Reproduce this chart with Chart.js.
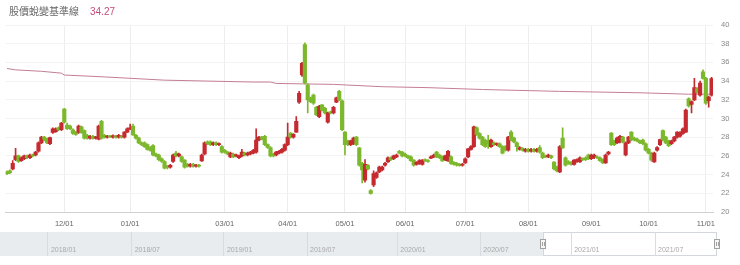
<!DOCTYPE html>
<html>
<head>
<meta charset="utf-8">
<script src="https://cdn.jsdelivr.net/npm/chart.js@4.4.1/dist/chart.umd.min.js"></script>
<style>
  html, body { margin: 0; padding: 0; background: #fff; }
  #wrap { position: relative; width: 740px; height: 265px; overflow: hidden; font-family: "Noto Sans CJK TC", "Noto Sans", sans-serif; }
  #title { position: absolute; left: 9px; top: 3px; font-size: 10px; color: #666; z-index: 2; white-space: nowrap; }
  #title span { color: #c24d7c; margin-left: 11px; font-family: "Liberation Sans", Arial, sans-serif; }
  #main { position: absolute; left: 0; top: 0; }
  #nav { position: absolute; left: 0; top: 231px; }
</style>
</head>
<body>
<div id="wrap">
  <div id="title">股價蛻變基準線<span id="last">34.27</span></div>
  <canvas id="main" width="740" height="231"></canvas>
  <canvas id="nav" width="740" height="26"></canvas>
</div>
<script>
// daily candles, 2020/11/03 .. 2021/11/03 (TWSE trading days)
const startDay = '2020-11-03'
const endDay = '2021-11-03'
const holidays = ['2021-01-01','2021-02-08','2021-02-09','2021-02-10','2021-02-11','2021-02-12',
  '2021-02-15','2021-02-16','2021-03-01','2021-04-02','2021-04-05','2021-06-14',
  '2021-09-20','2021-09-21','2021-10-11']
const xTicks = ['12/01','01/01','03/01','04/01','05/01','06/01','07/01','08/01','09/01','10/01','11/01']

const open = [
  24.3,24.4,24.6,25.6,26.0,25.5,25.7,26.0,25.8,26.1, 26.1,26.5,27.4,28.0,27.8,27.3,28.5,28.6,29.0,28.8,
  31.0,29.3,29.2,28.8,28.55,28.5,29.1,28.7,28.2,27.9, 28.1,27.9,27.8,29.7,28.2,28.0,28.15,28.0,28.1,28.0,
  28.1,28.0,28.55,28.9,29.2,28.2,27.9,27.4,27.4,27.2, 26.9,27.1,26.2,26.1,25.7,25.4,24.9,24.8,25.4,26.3,
  26.0,25.9,25.55,25.1,24.9,25.1,24.9,25.0,25.45,26.2, 27.5,27.5,27.2,27.4,27.2,27.0,26.6,26.4,25.9,26.2,
  26.0,25.8,26.0,26.3,26.1,26.2,26.3,26.4,27.7,28.0, 28.1,27.2,26.9,26.2,26.1,26.3,26.4,26.6,27.2,28.45,
  28.0,28.55,31.75,34.65,37.9,33.6,32.2,32.5,31.2,30.2, 31.45,31.1,29.6,30.7,30.6,31.75,32.9,31.9,28.55,27.6,
  27.2,27.3,28.0,26.85,25.2,23.4,25.0,22.3,22.9,23.7, 24.3,24.5,25.0,25.35,25.8,25.7,25.9,26.5,26.4,26.2,
  26.0,25.9,25.55,25.1,25.2,25.1,25.6,25.5,25.75,25.9, 26.4,26.1,25.9,25.6,25.45,25.9,25.3,25.2,25.1,25.0,
  25.25,25.9,26.7,27.0,29.0,28.4,28.0,27.7,27.6,27.0, 27.4,27.2,27.3,27.0,27.0,26.6,28.55,27.9,27.4,26.7,
  26.8,26.5,26.7,26.5,26.7,26.5,26.9,26.3,26.0,25.9, 26.0,25.35,24.8,24.3,27.9,25.8,25.4,25.3,25.1,25.4,
  25.35,25.7,25.8,26.1,25.7,25.8,25.9,25.8,25.6,25.25, 26.2,28.45,27.6,27.4,27.5,28.0,26.1,27.4,28.55,27.9,
  27.8,27.6,27.7,27.3,26.7,26.3,25.35,26.6,27.2,28.7, 28.0,27.6,27.3,27.6,28.0,28.1,28.4,28.55,32.1,31.5,
  32.0,33.2,32.5,35.0,34.3,31.9,32.5
]
const close = [
  24.1,24.2,25.2,26.0,25.4,25.8,26.0,25.8,26.1,26.0, 26.4,27.4,28.0,27.8,27.4,27.95,28.9,28.9,28.8,29.5,
  29.6,28.9,28.9,28.4,28.3,29.2,28.5,27.9,27.9,28.1, 27.9,28.0,29.2,27.9,28.0,28.1,28.05,28.15,28.0,28.2,
  28.0,28.55,28.9,29.0,28.25,27.9,27.4,27.2,27.0,26.7, 26.6,26.1,26.0,25.6,25.4,24.7,24.8,25.0,26.1,26.0,
  26.2,25.4,24.8,24.9,25.1,24.9,25.0,24.9,26.1,27.4, 27.3,27.2,27.4,27.2,27.3,26.4,26.4,26.2,26.3,25.9,
  26.1,26.0,26.4,26.1,26.3,26.4,26.6,27.7,28.0,27.8, 27.2,26.9,26.0,26.0,26.4,26.5,26.7,27.2,28.0,28.0,
  28.3,29.7,32.7,35.9,33.8,32.0,31.8,31.65,30.4,31.3, 30.9,30.6,30.6,30.6,31.2,32.2,32.0,28.8,27.2,27.2,
  27.6,27.9,27.2,25.0,24.5,25.1,24.6,22.0,24.1,24.2, 24.8,24.8,25.2,25.8,25.6,26.0,26.1,26.3,26.0,26.0,
  25.8,25.5,25.0,25.3,25.5,25.55,25.45,25.4,25.9,26.1, 25.9,25.8,25.45,26.0,26.5,25.2,25.1,25.0,24.95,25.1,
  25.7,26.75,27.0,29.1,28.3,27.9,27.2,27.0,27.3,27.7, 27.2,27.3,27.0,26.3,26.6,28.0,27.7,27.5,27.0,26.9,
  26.6,26.7,26.5,26.7,26.5,26.7,26.4,25.8,25.9,26.1, 25.8,24.6,24.4,27.0,26.85,25.0,25.2,25.1,25.55,25.6,
  25.8,25.6,25.6,25.7,26.1,26.1,25.8,25.5,25.25,26.1, 26.4,27.2,27.2,27.9,28.1,27.5,27.4,28.0,27.7,27.7,
  27.6,27.4,27.3,26.6,26.3,25.55,26.3,26.9,27.75,27.7, 27.4,27.1,27.6,28.0,28.55,28.5,28.9,30.9,31.35,31.8,
  33.3,32.8,33.8,34.3,31.65,32.3,34.27
]
const high = [
  24.4,24.5,25.5,26.8,26.1,25.9,26.1,26.1,26.2,26.2, 26.5,27.5,28.1,28.1,27.9,28.0,29.0,29.0,29.1,29.6,
  31.1,29.5,29.3,28.9,28.6,29.3,29.2,28.8,28.3,28.2, 28.2,28.1,29.3,29.8,28.3,28.2,28.2,28.25,28.2,28.3,
  28.2,28.6,29.0,29.4,29.4,28.3,28.0,27.5,27.5,27.3, 27.0,27.2,26.3,26.2,25.8,25.5,25.0,25.1,26.2,26.5,
  26.3,26.0,25.6,25.2,25.2,25.2,25.1,25.1,26.2,27.5, 27.6,27.6,27.5,27.5,27.4,27.1,26.7,26.5,26.4,26.3,
  26.2,26.1,26.7,26.4,26.4,26.5,26.7,28.9,28.1,28.1, 28.2,27.3,27.0,26.3,26.5,26.6,26.8,27.3,29.5,28.5,
  28.4,30.2,32.9,36.0,38.1,33.7,32.3,32.6,31.3,31.4, 31.5,31.2,30.7,30.8,31.3,32.3,33.0,32.0,28.6,27.7,
  27.7,28.0,28.1,26.9,25.3,25.6,25.1,22.4,24.4,24.3, 24.9,24.9,25.3,25.9,25.9,26.1,26.2,26.6,26.5,26.3,
  26.1,26.0,25.6,25.4,25.6,25.6,25.7,25.6,26.0,26.2, 26.5,26.2,26.0,26.1,26.6,26.0,25.4,25.3,25.2,25.2,
  25.8,26.8,27.1,29.2,29.1,28.5,28.1,27.8,28.2,27.8, 27.5,27.4,27.4,27.1,27.1,28.1,28.7,28.0,27.5,27.0,
  26.9,26.8,26.8,26.8,26.8,26.8,27.1,26.4,26.1,26.2, 26.1,25.4,24.9,27.1,29.0,25.9,25.5,25.4,25.6,25.7,
  25.9,25.8,25.9,26.2,26.2,26.2,26.0,25.9,25.7,26.2, 26.5,28.5,27.7,28.0,28.2,28.1,27.5,28.1,28.6,28.0,
  27.9,27.7,27.8,27.4,26.8,26.4,26.4,27.0,27.8,28.8, 28.1,27.7,27.7,28.1,28.6,28.6,29.0,31.0,32.2,31.9,
  34.3,33.3,34.0,35.2,34.4,32.4,34.4
]
const low = [
  24.0,24.1,24.5,25.5,25.3,25.4,25.6,25.7,25.7,25.9, 26.0,26.4,27.3,27.6,27.3,27.2,28.4,28.5,28.7,28.7,
  29.5,28.8,28.8,28.3,28.2,28.4,28.4,27.8,27.8,27.8, 27.8,27.8,27.7,27.8,27.9,27.9,27.95,27.9,27.9,27.9,
  27.9,27.9,28.5,28.8,28.2,27.8,27.3,27.1,26.9,26.6, 26.5,26.0,25.9,25.5,25.3,24.6,24.6,24.7,25.3,25.9,
  25.9,25.3,24.7,24.8,24.8,24.8,24.8,24.8,25.4,26.1, 27.2,27.1,27.1,27.1,27.1,26.3,26.3,26.1,25.8,25.8,
  25.9,25.7,25.9,26.0,26.0,26.1,26.2,26.3,27.6,27.7, 27.1,26.8,25.9,25.9,26.0,26.2,26.3,26.5,27.1,27.9,
  27.9,28.5,31.6,34.5,33.7,30.6,31.7,31.5,30.3,30.1, 30.8,30.5,29.5,30.5,30.5,31.7,31.9,28.7,26.1,27.1,
  27.1,27.2,27.1,24.9,23.1,23.2,24.5,21.9,22.7,23.6, 24.2,24.4,24.9,25.3,25.5,25.6,25.8,26.2,25.9,25.9,
  25.7,25.4,24.9,25.0,25.1,25.0,25.4,25.3,25.7,25.8, 25.8,25.7,25.4,25.5,25.4,25.1,25.0,24.9,24.9,24.9,
  25.2,25.8,26.6,26.9,28.2,27.8,27.1,26.9,26.8,26.9, 27.1,27.1,26.9,26.2,26.5,26.5,27.6,27.4,26.5,26.6,
  26.5,26.4,26.4,26.4,26.4,26.4,26.3,25.7,25.8,25.8, 25.7,24.5,24.3,24.2,26.8,24.9,25.1,25.0,25.0,25.3,
  25.3,25.5,25.5,25.6,25.6,25.7,25.7,25.4,25.2,25.2, 26.1,27.1,27.1,27.3,27.4,27.4,26.0,27.3,27.6,27.6,
  27.5,27.3,27.2,26.5,26.2,25.4,25.3,26.5,27.1,27.6, 27.3,27.0,27.2,27.5,27.9,28.0,28.3,28.5,31.2,30.6,
  31.9,32.7,32.4,34.2,31.5,31.2,32.4
]
// 基準線: [trading-day index, value]
const baseKnots = [[0,35.35],[3,35.2],[12,35.05],[19,34.85],[20,34.65],[34,34.45],[55,34.1],
  [86,33.9],[92,33.9],[94,33.75],[114,33.65],[131,33.4],[147,33.3],[166,33.1],[193,32.9],
  [221,32.75],[238,32.6],[246,32.6]]

// navigator (trading days since the start of the navigator range)
const navTickLabels = ['2018/01','2018/07','2019/01','2019/07','2020/01','2020/07','2021/01','2021/07']
const navTickDays = [68,187,318,436,564,682,811,930]
const navTotal = 1018

const UP = '#c42a2f', DOWN = '#7cb82c', BASE = '#c47d96'

// trading-day labels
const dates = []
for (let d = new Date(startDay + 'T00:00:00Z'); d <= new Date(endDay + 'T00:00:00Z'); d.setUTCDate(d.getUTCDate() + 1)) {
  const iso = d.toISOString().slice(0, 10)
  if (d.getUTCDay() === 0 || d.getUTCDay() === 6 || holidays.includes(iso)) continue
  dates.push(iso.slice(5, 7) + '/' + iso.slice(8, 10))
}
const tickAt = dates.map((d, i) => {
  const first = i > 0 && dates[i - 1].slice(0, 2) !== d.slice(0, 2)
  const lab = d.slice(0, 2) + '/01'
  return first && xTicks.includes(lab) ? lab : ''
})

const colors = close.map((c, i) => c >= open[i] ? UP : DOWN)
const baseline = dates.map(() => null)
baseKnots.forEach(([i, v]) => { baseline[i] = v })

new Chart(document.getElementById('main'), {
  type: 'bar',
  data: {
    labels: dates,
    datasets: [
      { data: open.map((o, i) => [o, close[i]]), backgroundColor: colors, barThickness: 3.5, minBarLength: 1, grouped: false, order: 1 },
      { data: low.map((l, i) => [l, high[i]]), backgroundColor: colors, barThickness: 1, grouped: false, order: 2 },
      { type: 'line', data: baseline, borderColor: BASE, borderWidth: 1, pointRadius: 0, spanGaps: true, order: 3 }
    ]
  },
  options: {
    responsive: false,
    animation: false,
    layout: { padding: { top: 25, left: 0, right: 0, bottom: 0 } },
    plugins: { legend: { display: false }, tooltip: { enabled: false } },
    scales: {
      x: {
        grid: { offset: false, drawTicks: false, color: c => tickAt[c.index] ? '#ededed' : 'rgba(0,0,0,0)' },
        border: { color: '#d0d0d0' },
        ticks: { autoSkip: false, maxRotation: 0, padding: 7, color: '#666', font: { size: 7.5, family: 'Liberation Sans' },
          callback: (v, i) => tickAt[i] },
        afterFit: s => { s.height = 19 }
      },
      y: {
        position: 'right', min: 20, max: 40,
        grid: { drawTicks: false, color: '#f3f3f3' },
        border: { display: false },
        ticks: { stepSize: 2, padding: 8, color: '#888', font: { size: 7.5, family: 'Liberation Sans' } },
        afterFit: s => { s.width = 27 }
      }
    }
  }
})

const navBand = {
  id: 'navBand',
  beforeDraw(c) {
    const { ctx, chartArea: a, scales: { x } } = c
    const s = x.getPixelForValue(navTotal - dates.length)
    ctx.save()
    ctx.fillStyle = '#e9ecef'
    ctx.fillRect(a.left, a.top, s - a.left, a.bottom - a.top)
    ctx.strokeStyle = '#d3d6da'
    ctx.strokeRect(s + 0.5, a.top + 0.5, a.right - s - 1, a.bottom - a.top - 1)
    ctx.restore()
  },
  afterDraw(c) {
    const { ctx, chartArea: a, scales: { x } } = c
    const mid = (a.top + a.bottom) / 2
    ;[x.getPixelForValue(navTotal - dates.length), a.right].forEach(px => {
      const l = Math.round(px) - 3
      ctx.fillStyle = '#f6f6f6'
      ctx.strokeStyle = '#a0a0a0'
      ctx.fillRect(l, mid - 5, 6, 10)
      ctx.strokeRect(l + 0.5, mid - 5 + 0.5, 5, 9)
      ctx.fillStyle = '#a0a0a0'
      ctx.fillRect(l + 2, mid - 2, 1, 4)
      ctx.fillRect(l + 4, mid - 2, 1, 4)
    })
  }
}

new Chart(document.getElementById('nav'), {
  type: 'line',
  data: { datasets: [{ data: [] }] },
  plugins: [navBand],
  options: {
    responsive: false,
    animation: false,
    layout: { padding: { top: 1, bottom: 1, left: 0, right: 23 } },
    plugins: { legend: { display: false }, tooltip: { enabled: false } },
    scales: {
      y: { display: false, min: 0, max: 1 },
      x: {
        type: 'linear', min: 0, max: navTotal, position: { y: 0.42 },
        afterBuildTicks: s => { s.ticks = navTickDays.map(v => ({ value: v })) },
        grid: { drawTicks: false, color: '#d8dbdf' },
        border: { display: false },
        ticks: { align: 'start', labelOffset: 3, padding: 0, color: '#a8a8a8', font: { size: 7, family: 'Liberation Sans' },
          callback: (v, i) => navTickLabels[i] }
      }
    }
  }
})
</script>
</body>
</html>
